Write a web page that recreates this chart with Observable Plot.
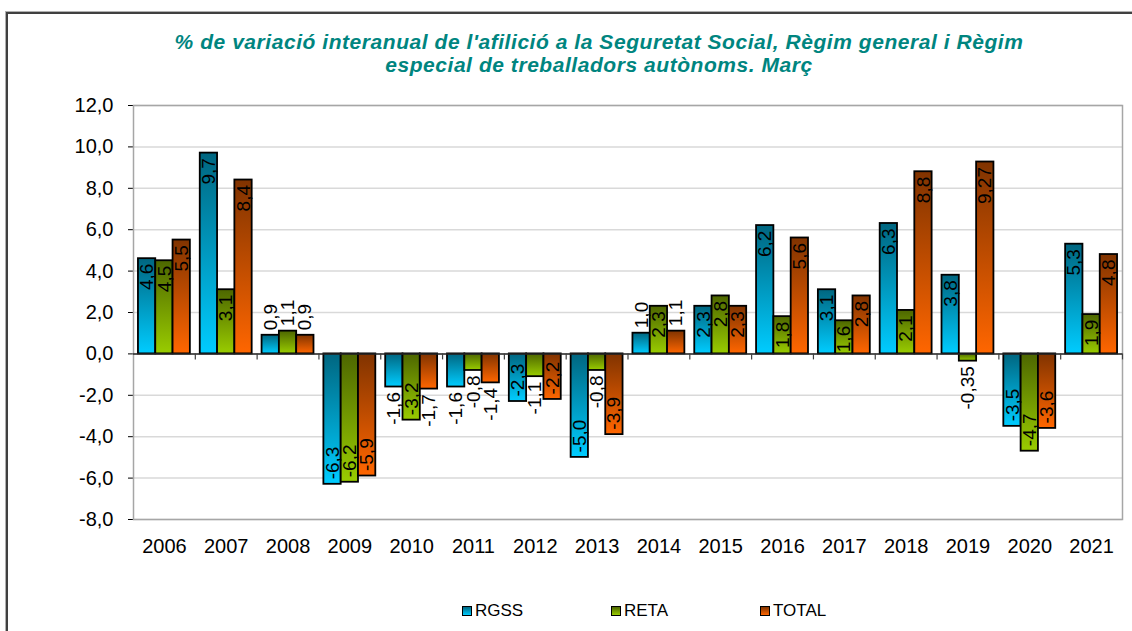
<!DOCTYPE html>
<html>
<head>
<meta charset="utf-8">
<script src="https://cdn.jsdelivr.net/npm/d3@7"></script>
<script src="https://cdn.jsdelivr.net/npm/@observablehq/plot@0.6"></script>
<style>
  html, body { margin: 0; padding: 0; background: #fff; }
  body { width: 1132px; height: 631px; overflow: hidden; position: relative; font-family: "Liberation Sans", Arial, sans-serif; }
  #frame { position: absolute; left: 6px; top: 12px; width: 1400px; height: 900px; border-left: 2px solid #404040; border-top: 2px solid #404040; box-shadow: -1px -1px 0 #b0b0b0; }
  #title { position: absolute; left: -4px; top: 30px; width: 1206px; text-align: center; color: #00857f; font: italic bold 21px "Liberation Sans", Arial, sans-serif; letter-spacing: 0.55px; line-height: 23px; }
  #chart { position: absolute; left: 0; top: 88px; }
  #legend { position: absolute; left: 0; top: 601px; width: 1132px; height: 20px; font: 17px "Liberation Sans", Arial, sans-serif; color: #000; }
  .item { position: absolute; top: 0; display: flex; align-items: center; height: 20px; }
  .sw { width: 8px; height: 8px; border: 1.5px solid #000; margin-right: 3px; }
</style>
</head>
<body>
<div id="frame"></div>
<div id="title">% de variació interanual de l'afilició a la Seguretat Social, Règim general i Règim<br>especial de treballadors autònoms. Març</div>
<div id="chart"></div>
<div id="legend"></div>
<script>
const years = ["2006","2007","2008","2009","2010","2011","2012","2013","2014","2015","2016","2017","2018","2019","2020","2021"];
const series = ["RGSS", "RETA", "TOTAL"];
const rgss  = [4.6, 9.7, 0.9, -6.3, -1.6, -1.6, -2.3, -5.0, 1.0, 2.3, 6.2, 3.1, 6.3, 3.8, -3.5, 5.3];
const reta  = [4.5, 3.1, 1.1, -6.2, -3.2, -0.8, -1.1, -0.8, 2.3, 2.8, 1.8, 1.6, 2.1, -0.35, -4.7, 1.9];
const total = [5.5, 8.4, 0.9, -5.9, -1.7, -1.4, -2.2, -3.9, 1.1, 2.3, 5.6, 2.8, 8.8, 9.27, -3.6, 4.8];
const yTicks = [-8, -6, -4, -2, 0, 2, 4, 6, 8, 10, 12];
const topColors = ["#006680", "#4d6600", "#803300"];
const bottomColors = ["#00ccff", "#99cc00", "#ff6600"];

const seriesValues = [rgss, reta, total];
const rows = years.flatMap((yr, i) => series.map((s, j) => ({year: yr, series: s, value: seriesValues[j][i]})));

const width = 1132, height = 480;
const mL = 133, mR = 10, mT = 17, mB = 49;
const pad = 0.16;
const step = (width - mL - mR) / years.length;
const bw = step * (1 - pad);
const sub = bw / series.length;
const yDomain = d3.extent(yTicks);
const pxPerUnit = (height - mT - mB) / (yDomain[1] - yDomain[0]);

const fmt = v => {
  const oneDec = Math.abs(Math.round(v * 10) - v * 10) < 1e-9;
  return v.toFixed(oneDec ? 1 : 2).replace(".", ",");
};
const labelFont = 19;
const ctx = document.createElement("canvas").getContext("2d");
ctx.font = `${labelFont}px "Liberation Sans", Arial`;
const labels = rows.map(r => {
  const text = fmt(r.value);
  const inside = Math.abs(r.value) * pxPerUnit >= ctx.measureText(text).width + 5;
  return {...r, text, anchorEnd: (r.value > 0) === inside};
});

const marks = [
  Plot.ruleY(yTicks, {stroke: "#d9d9d9", strokeWidth: 1.5}),
  Plot.frame({stroke: "#a6a6a6", strokeWidth: 1.5}),
  ...series.map((s, j) => Plot.barY(rows.filter(r => r.series === s), {
    x: "year", y: "value", fill: `url(#grad${j})`, stroke: "#000", strokeWidth: 1.8,
    insetLeft: j * sub, insetRight: (series.length - 1 - j) * sub
  })),
  Plot.ruleY([0], {stroke: "#262626", strokeWidth: 1.5}),
  Plot.ruleX(years, {x: d => d, y1: 0, y2: 0, insetBottom: -6, dx: step / 2, stroke: "#404040", strokeWidth: 1.2}),
  ...series.flatMap((s, j) => [true, false].map(ae => Plot.text(
    labels.filter(d => d.series === s && d.anchorEnd === ae), {
      x: "year", y: "value", text: "text", rotate: -90,
      textAnchor: ae ? "end" : "start",
      dx: (j - (series.length - 1) / 2) * sub, dy: ae ? 5 : -5,
      fontSize: labelFont, fill: "#000"
    })))
];

const svg = Plot.plot({
  width, height,
  marginLeft: mL, marginRight: mR, marginTop: mT, marginBottom: mB,
  style: {background: "transparent", fontSize: "20px", fontFamily: "'Liberation Sans', Arial, sans-serif", color: "#000", overflow: "visible"},
  x: {domain: years, paddingInner: pad, paddingOuter: pad / 2, round: false, tickSize: 0, tickPadding: 19, label: null},
  y: {domain: yDomain, ticks: yTicks, tickFormat: d => d3.format(".1f")(d).replace(".", ",").replace("−", "-"), tickSize: 5, tickPadding: 15, label: null, line: true},
  marks
});

const defs = d3.select(svg).insert("defs", ":first-child");
series.forEach((s, j) => {
  const g = defs.append("linearGradient").attr("id", "grad" + j)
    .attr("x1", 0).attr("y1", 0).attr("x2", 0).attr("y2", 1);
  g.append("stop").attr("offset", "0%").attr("stop-color", topColors[j]);
  g.append("stop").attr("offset", "100%").attr("stop-color", bottomColors[j]);
});
document.getElementById("chart").appendChild(svg);

const legend = document.getElementById("legend");
const legendStart = 462, legendGap = 149;
series.forEach((s, j) => {
  const it = document.createElement("div");
  it.className = "item";
  it.style.left = (legendStart + j * legendGap) + "px";
  const sw = document.createElement("div");
  sw.className = "sw";
  sw.style.background = `linear-gradient(${topColors[j]}, ${bottomColors[j]})`;
  const tx = document.createElement("span");
  tx.textContent = s;
  it.appendChild(sw); it.appendChild(tx);
  legend.appendChild(it);
});
</script>
</body>
</html>
